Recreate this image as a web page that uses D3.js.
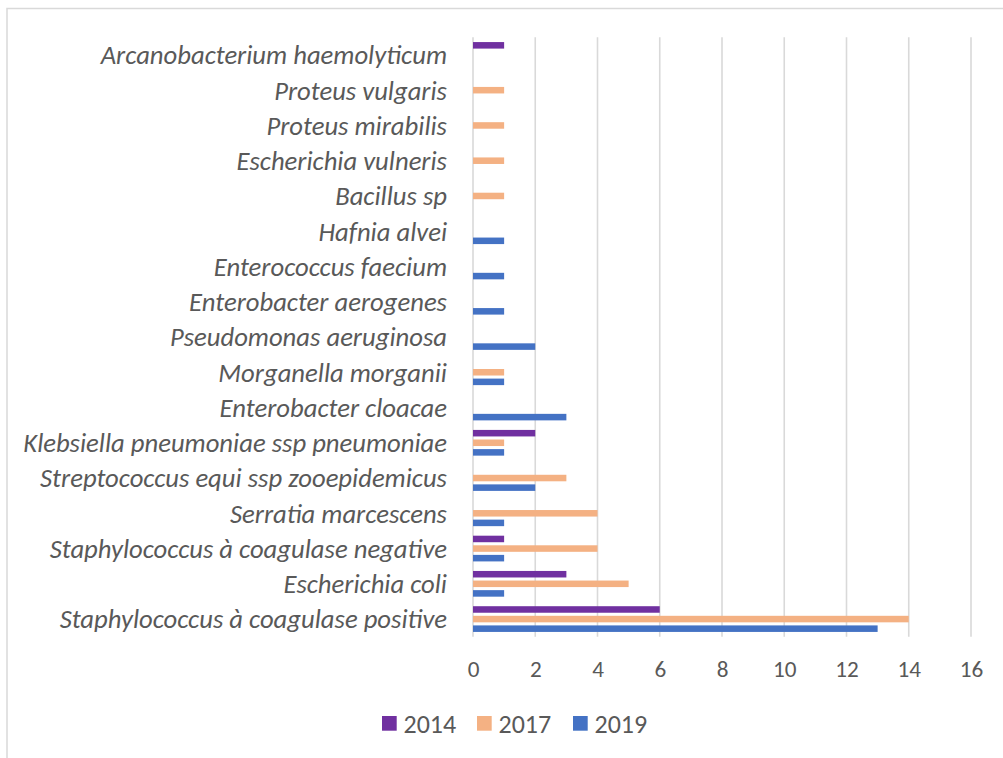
<!DOCTYPE html>
<html>
<head>
<meta charset="utf-8">
<script src="https://cdn.jsdelivr.net/npm/d3@7"></script>
<style>
  html, body { margin: 0; padding: 0; background: #fff; }
  svg { display: block; }
</style>
</head>
<body>
<svg id="chart" width="1003" height="758"></svg>
<script>
const categories = [
  "Arcanobacterium haemolyticum",
  "Proteus vulgaris",
  "Proteus mirabilis",
  "Escherichia vulneris",
  "Bacillus sp",
  "Hafnia alvei",
  "Enterococcus faecium",
  "Enterobacter aerogenes",
  "Pseudomonas aeruginosa",
  "Morganella morganii",
  "Enterobacter cloacae",
  "Klebsiella pneumoniae ssp pneumoniae",
  "Streptococcus equi ssp zooepidemicus",
  "Serratia marcescens",
  "Staphylococcus à coagulase negative",
  "Escherichia coli",
  "Staphylococcus à coagulase positive"
];
const seriesNames = ["2014", "2017", "2019"];
const values2014 = [1, 0, 0, 0, 0, 0, 0, 0, 0, 0, 0, 2, 0, 0, 1, 3, 6];
const values2017 = [0, 1, 1, 1, 1, 0, 0, 0, 0, 1, 0, 1, 3, 4, 4, 5, 14];
const values2019 = [0, 0, 0, 0, 0, 1, 1, 1, 2, 1, 3, 1, 2, 1, 1, 1, 13];
const xTicks = [0, 2, 4, 6, 8, 10, 12, 14, 16];
const colors = ["#7030A0", "#F4B183", "#4472C4"];

const seriesValues = [values2014, values2017, values2019];
const svg = d3.select("#chart");
const textColor = "#595959";
const fontFam = "Carlito, Lato, 'Open Sans', sans-serif";

// chart border
svg.append("rect")
  .attr("x", 7).attr("y", 8.5)
  .attr("width", 1010).attr("height", 770)
  .attr("fill", "none").attr("stroke", "#d9d9d9").attr("stroke-width", 1.5);

const plot = { left: 473, right: 971, top: 37.3, bottom: 636.7 };

const x = d3.scaleLinear().domain([0, 16]).range([plot.left, plot.right]);
const y = d3.scaleBand().domain(categories).range([plot.top, plot.bottom]).padding(0);
const y1 = d3.scaleBand().domain(seriesNames).range([0, y.bandwidth()])
  .paddingInner(0.32).paddingOuter(0.497);

// gridlines
svg.append("g").selectAll("line").data(xTicks).join("line")
  .attr("x1", d => x(d)).attr("x2", d => x(d))
  .attr("y1", plot.top).attr("y2", plot.bottom)
  .attr("stroke", "#d9d9d9").attr("stroke-width", 1.6);

// x axis tick labels
const xAxis = d3.axisBottom(x).tickValues(xTicks).tickSize(0).tickPadding(0);
const gx = svg.append("g").attr("transform", `translate(0, 669)`).call(xAxis);
gx.select(".domain").remove();
const tickLabels = gx.selectAll("text")
  .attr("y", 0).attr("dy", "0.35em")
  .attr("fill", textColor)
  .style("font-family", fontFam).style("font-size", "20px");
const tw = tickLabels.filter(d => d === 16).node().getComputedTextLength();
tickLabels.style("font-size", (20 * 23.5 / tw).toFixed(2) + "px");

// category labels
const yAxis = d3.axisLeft(y).tickSize(0).tickPadding(0);
const gy = svg.append("g").attr("transform", `translate(447, 0)`).call(yAxis);
gy.select(".domain").remove();
const labels = gy.selectAll("text")
  .attr("x", 0).attr("dy", "0.35em")
  .attr("fill", textColor)
  .style("font-family", fontFam).style("font-style", "italic").style("font-size", "20px");
const w = labels.filter(d => d === "Streptococcus equi ssp zooepidemicus").node().getComputedTextLength();
labels.style("font-size", (20 * 407 / w).toFixed(2) + "px");

// bars
const groups = svg.append("g").selectAll("g").data(categories).join("g")
  .attr("transform", d => `translate(0, ${y(d)})`);
groups.selectAll("rect")
  .data((d, i) => seriesNames.map((s, j) => ({ s, j, v: seriesValues[j][i] })).filter(e => e.v > 0))
  .join("rect")
  .attr("x", x(0))
  .attr("y", d => y1(d.s))
  .attr("width", d => x(d.v) - x(0))
  .attr("height", y1.bandwidth())
  .attr("fill", d => colors[d.j]);

// legend
const legendX = [382, 477, 573];
const leg = svg.append("g").selectAll("g").data(seriesNames).join("g")
  .attr("transform", (d, i) => `translate(${legendX[i]}, 716)`);
leg.append("rect").attr("width", 14.7).attr("height", 14.7)
  .attr("fill", (d, i) => colors[i]);
const legText = leg.append("text").attr("x", 21.5).attr("y", 7.5).attr("dy", "0.35em")
  .attr("fill", textColor)
  .style("font-family", fontFam).style("font-size", "20px")
  .text(d => d);
const lw = legText.node().getComputedTextLength();
legText.style("font-size", (20 * 52.7 / lw).toFixed(2) + "px");
</script>
</body>
</html>
